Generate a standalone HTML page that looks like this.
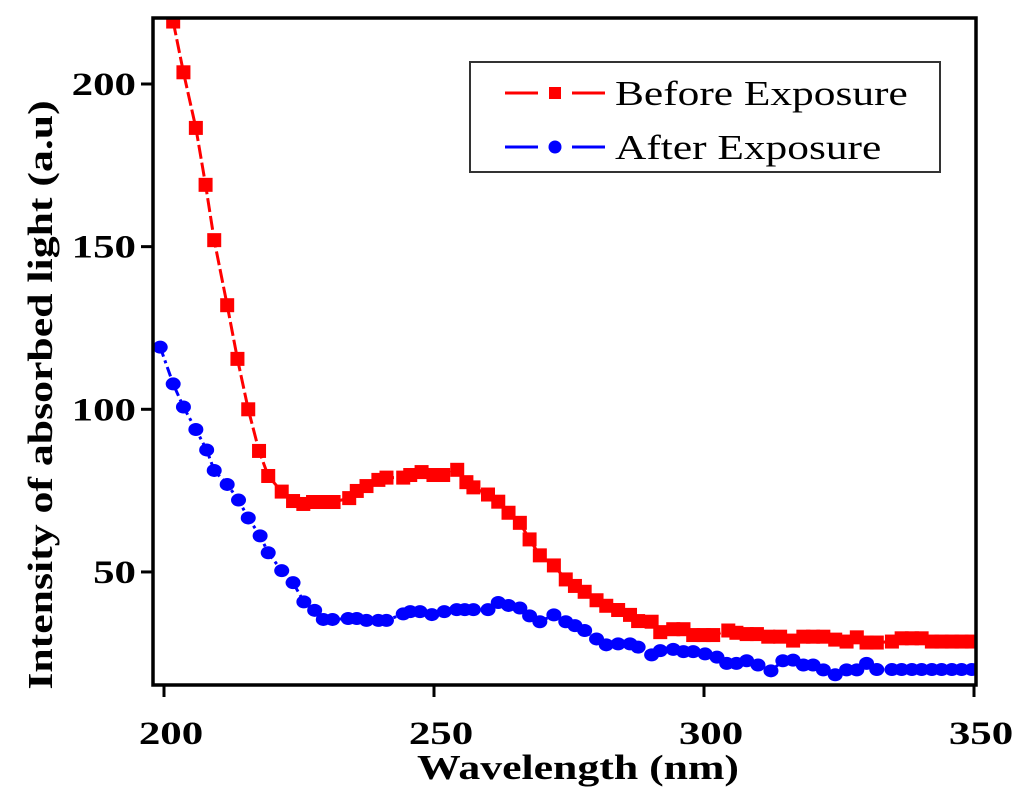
<!DOCTYPE html>
<html><head><meta charset="utf-8"><style>
body{margin:0;background:#fff}
svg{display:block;font-family:"Liberation Serif",serif}
</style></head><body>
<svg width="1024" height="805" viewBox="0 0 1024 805" xmlns="http://www.w3.org/2000/svg">
<g id="plot"></g>
</svg>
<script>
const redX=[201.7,203.6,205.9,207.7,209.3,211.7,213.6,215.6,217.6,219.3,221.8,223.9,225.8,227.6,228.9,230.1,231.4,234.3,235.7,237.5,239.7,241.2,244.3,245.6,247.7,249.9,251.7,254.3,256,257.3,260,261.9,263.8,265.9,267.7,269.6,272.2,274.4,276.1,277.9,280.1,281.9,284.1,286.3,287.8,290.3,291.9,294.3,296.2,298,299.9,301.7,304.5,306,307.9,309.8,311.9,314.1,316.5,318.4,320.2,322.1,324.3,326.4,328.3,330.1,332,334.8,336.6,338.5,340.3,342.2,344,345.9,347.7,349.6];
const redY=[219.2,203.6,186.5,169,152,132,115.5,100,87.2,79.5,74.7,71.8,70.9,71.5,71.5,71.5,71.5,72.7,74.9,76.4,78.3,79,79,79.8,80.7,79.8,79.8,81.4,77.6,76,73.8,71.6,68.2,65.1,60,55.1,52,47.7,45.7,43.9,41.3,39.6,38.3,36.8,34.9,34.7,31.5,32.4,32.4,30.6,30.6,30.6,32,31.3,30.9,30.9,30.1,30.1,28.9,30.1,30.1,30.1,29.2,28.6,29.9,28.3,28.3,28.6,29.6,29.6,29.6,28.6,28.6,28.6,28.6,28.6];
const blueX=[199.3,201.7,203.6,205.9,207.9,209.3,211.7,213.8,215.6,217.8,219.3,221.8,223.9,225.9,227.9,229.5,231.2,234.1,235.7,237.5,239.7,241.2,244.3,245.6,247.4,249.6,251.9,254.2,255.7,257.3,260,261.9,263.8,265.9,267.7,269.6,272.2,274.4,276.1,277.9,280.1,281.9,284.1,286.3,287.8,290.3,291.9,294.3,296.2,298,300.2,302.4,304.2,306,307.9,310,312.4,314.6,316.5,318.4,320.2,322.1,324.3,326.4,328.3,330.1,332,334.8,336.6,338.5,340.3,342.2,344,345.9,347.7,349.6];
const blueY=[119.1,107.8,100.7,93.8,87.5,81.2,76.9,72.1,66.6,61.1,55.9,50.4,46.7,40.8,38.2,35.4,35.4,35.7,35.7,35.1,35.1,35.1,37.1,37.8,37.8,36.9,37.8,38.4,38.4,38.4,38.4,40.6,39.7,38.9,36.5,34.7,36.8,34.7,33.5,32,29.4,27.6,27.9,27.9,26.9,24.5,25.8,26.2,25.5,25.5,24.8,23.8,21.9,21.9,22.7,21.4,19.6,22.7,22.9,21.4,21.4,19.9,18.4,19.9,19.9,21.9,20,20,20,20,20,20,20,20,20,20];
const xTicks=[200,250,300,350];
const yTicks=[50,100,150,200];

const NS="http://www.w3.org/2000/svg";
const g=document.getElementById('plot');
const L=153,R=976,T=18,B=685;
function sx(v){return 164+(v-200)*5.4;}
function sy(v){return 84+(200-v)*3.253;}
function mk(tag,attrs,parent){const e=document.createElementNS(NS,tag);for(const k in attrs)e.setAttribute(k,attrs[k]);(parent||g).appendChild(e);return e;}

const clip=mk('clipPath',{id:'cp'});mk('rect',{x:L,y:T,width:R-L,height:B-T},clip);
const data=mk('g',{'clip-path':'url(#cp)'});



function series(xs,ys,color,dash,name,shape){
  const pts=xs.map((x,i)=>sx(x)+','+sy(ys[i])).join(' ');
  const pl=mk('polyline',{points:pts,fill:'none',stroke:color,'stroke-width':3,'stroke-dasharray':dash},data);
  
  
  xs.forEach((x,i)=>{
    let m;
    if(shape==='sq') m=mk('rect',{x:sx(x)-7,y:sy(ys[i])-7,width:14,height:14,fill:color},data);
    else m=mk('ellipse',{cx:sx(x),cy:sy(ys[i]),rx:7.5,ry:6.5,fill:color},data);
    
    
  });
}
series(redX,redY,'#ff0000','14 4','before-exposure','sq');
series(blueX,blueY,'#0000ff','10 4 3 4','after-exposure','ci');

const frame=mk('rect',{x:L,y:T,width:R-L,height:B-T,fill:'none',stroke:'#000','stroke-width':3.5});



xTicks.forEach(v=>{
  const t=mk('line',{x1:sx(v),x2:sx(v),y1:B,y2:B+12,stroke:'#000','stroke-width':3});
  
  
  const tx=mk('text',{transform:'translate('+(sx(v)+7)+',744) scale(1.3,1)','text-anchor':'middle','font-size':33,'font-weight':'bold'});
  tx.textContent=v;
  
  
});
yTicks.forEach(v=>{
  const t=mk('line',{x1:L-12,x2:L,y1:sy(v),y2:sy(v),stroke:'#000','stroke-width':3});
  
  
  const tx=mk('text',{transform:'translate(136,'+(sy(v)+11)+') scale(1.3,1)','text-anchor':'end','font-size':33,'font-weight':'bold'});
  tx.textContent=v;
  
  
});
const xt=mk('text',{transform:'translate(578,779) scale(1.25,1)','text-anchor':'middle','font-size':35,'font-weight':'bold'});
xt.textContent='Wavelength (nm)';


const yt=mk('text',{transform:'translate(52,395) rotate(-90) scale(1.25,1)','text-anchor':'middle','font-size':35,'font-weight':'bold'});
yt.textContent='Intensity of absorbed light (a.u)';



const lg=mk('g',{});


mk('rect',{x:470,y:62,width:470,height:110,fill:'#fff',stroke:'#333','stroke-width':2},lg);
function entry(y,color,shape,label,name){
  const e=mk('g',{},lg);
  
  
  mk('line',{x1:505,x2:538,y1:y,y2:y,stroke:color,'stroke-width':3},e);
  mk('line',{x1:572,x2:605,y1:y,y2:y,stroke:color,'stroke-width':3},e);
  if(shape==='sq') mk('rect',{x:549,y:y-6,width:12,height:12,fill:color},e);
  else mk('circle',{cx:555,cy:y,r:6.5,fill:color},e);
  const t=mk('text',{transform:'translate(615,'+(y+12)+') scale(1.24,1)','font-size':35},e);
  t.textContent=label;
}
entry(93,'#ff0000','sq','Before Exposure','legend-entry-before');
entry(147,'#0000ff','ci','After Exposure','legend-entry-after');
</script>
</body></html>
